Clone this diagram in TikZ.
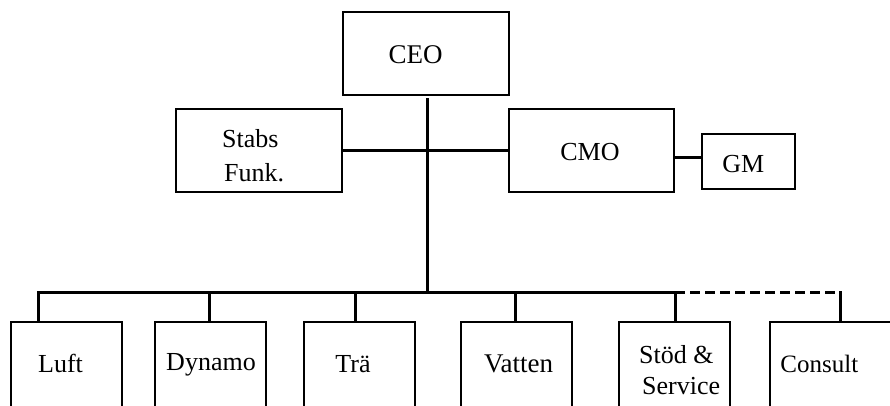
\documentclass[tikz,border=0pt]{standalone}
\usepackage{fontspec}
\setmainfont{Liberation Serif}
\begin{document}
\begin{tikzpicture}[x=1pt,y=-1pt,
  box/.style={draw=black,line width=1.3pt,rectangle,inner sep=0pt,outer sep=0pt},
  conn/.style={line width=3pt,black},
  lbl/.style={inner sep=0pt,anchor=base,font=\fontsize{26}{31}\selectfont},
  lblw/.style={inner sep=0pt,anchor=base west,font=\fontsize{26}{31}\selectfont}]
\useasboundingbox (0,0) rectangle (890,405);
\clip (0,0) rectangle (890,405);
% boxes
\node[box,minimum width=166,minimum height=83] (CEO) at (426,53.5) {};
\node[box,minimum width=166,minimum height=83] (Stabs) at (259,150.5) {};
\node[box,minimum width=165,minimum height=83] (CMO) at (591.5,150.5) {};
\node[box,minimum width=93,minimum height=55] (GM) at (748.5,161.5) {};
\node[box,minimum width=111,minimum height=110] (Luft) at (66.5,377) {};
\node[box,minimum width=111,minimum height=110] (Dynamo) at (210.5,377) {};
\node[box,minimum width=111,minimum height=110] (Tra) at (359.5,377) {};
\node[box,minimum width=111,minimum height=110] (Vatten) at (516.5,377) {};
\node[box,minimum width=111,minimum height=110] (Stod) at (674.5,377) {};
\node[box,minimum width=130,minimum height=110] (Consult) at (835,377) {};
% texts
\node[lbl,font=\fontsize{27}{32}\selectfont] (tCEO) at (415.5,63) {CEO};
\node[lblw] (tStabs) at (222,147.7) {Stabs};
\node[lblw] (tFunk) at (224,181.7) {Funk.};
\node[lbl] (tCMO) at (590,160) {CMO};
\node[lbl] (tGM) at (743.4,172.3) {GM};
\node[lbl] (tLuft) at (60.5,372.7) {Luft};
\node[lbl] (tDynamo) at (211,370.7) {Dynamo};
\node[lbl] (tTra) at (353,372.3) {Trä};
\node[lbl,font=\fontsize{27}{32}\selectfont] (tVatten) at (518.7,372) {Vatten};
\node[lblw] (tStod) at (639,363) {Stöd \&};
\node[lblw] (tService) at (642,394) {Service};
\node[lbl,font=\fontsize{25}{30}\selectfont] (tConsult) at (819.3,372.7) {Consult};
% connectors
\coordinate (bus) at (427.3,292.5);
\coordinate (dL) at (38,292.5);
\coordinate (dD) at (209,292.5);
\coordinate (dT) at (355,292.5);
\coordinate (dV) at (515,292.5);
\coordinate (dS) at (675,292.5);
\coordinate (dC) at (840,292.5);
\draw[conn] (bus |- CEO.south) ++(0,3) -- (bus);
\draw[line width=2.7pt] (Stabs.east) -- (CMO.west);
\draw[line width=2.7pt] ([yshift=-7pt]CMO.east) -- ([yshift=-7pt]CMO.east -| GM.west);
\draw[conn] (dL) -- (dS);
\draw[conn,dash pattern=on 10pt off 5pt] (dS) -- (dC);
\foreach \d/\b in {dL/Luft,dD/Dynamo,dT/Tra,dV/Vatten,dS/Stod,dC/Consult}
  \draw[conn] ([yshift=1.5pt]\d) -- (\d |- \b.north);
\end{tikzpicture}
\end{document}
